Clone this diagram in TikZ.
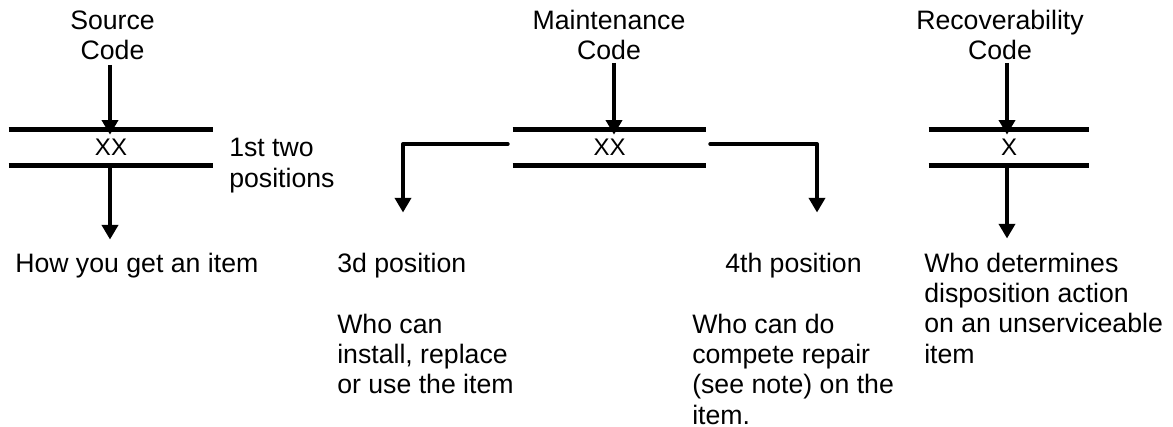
\documentclass[tikz,border=0pt]{standalone}
\usepackage{fontspec}
\setmainfont{Liberation Sans}
\usetikzlibrary{arrows.meta}
\begin{document}
\begin{tikzpicture}[x=0.75pt,y=-0.75pt,
  txt/.style={inner sep=0pt, font=\fontsize{20}{22.8}\selectfont},
  field/.style={inner sep=0pt, minimum height=27pt, font=\fontsize{18}{20}\selectfont},
  bar/.style={line width=3.75pt},
  arr/.style={line width=3pt, -{Triangle[width=12pt,length=11pt]}},
  link/.style={arr, line join=round, line cap=round}]
\useasboundingbox (0,0) rectangle (1173,427);

% ---------- Source code ----------
\node[field, minimum width=153pt] (sf) at (111,147.5) {XX};
\draw[bar] (sf.north west) -- (sf.north east);
\draw[bar] (sf.south west) -- (sf.south east);
\node[txt, align=center, anchor=south] (sl) at (112.5,60) {Source\\Code};
\coordinate (sx) at (110,0);
\draw[arr, shorten <=3.75pt, shorten >=-4.1pt] (sl.south -| sx) -- (sf.north -| sx);
\node[txt, anchor=base west] (how) at (15,272.5) {How you get an item};
\draw[arr, shorten >=10pt] (sf.south -| sx) -- (how.north -| sx);
\node[txt, align=left, anchor=north west] (pos12) at (229,138) {1st two\\positions};

% ---------- Maintenance code ----------
\node[field, minimum width=144.75pt] (mf) at (609.5,147.5) {XX};
\draw[bar] (mf.north west) -- (mf.north east);
\draw[bar] (mf.south west) -- (mf.south east);
\node[txt, align=center, anchor=south] (ml) at (609,60) {Maintenance\\Code};
\coordinate (mx) at (614,0);
\draw[arr, shorten <=2.25pt, shorten >=-4.1pt] (ml.south -| mx) -- (mf.north -| mx);

\node[txt, anchor=base west] (p3) at (337,272.5) {3d position};
\node[txt, align=left, anchor=north west] (d3) at (337,313.5) {Who can\\install, replace\\or use the item};
\coordinate (mls) at ([shift={(-5,-3.5)}]mf.west);
\coordinate (p3x) at (403,0);
\draw[link, shorten >=30.3pt] (mls) -- (mls -| p3x) -- (p3.north -| p3x);

\node[txt, anchor=base west] (p4) at (725,272.5) {4th position};
\node[txt, align=left, anchor=north west] (d4) at (692,313.5) {Who can do\\compete repair\\(see note) on the\\item.};
\coordinate (mrs) at ([shift={(4,-3.5)}]mf.east);
\coordinate (p4x) at (817,0);
\draw[link, shorten >=30.3pt] (mrs) -- (mrs -| p4x) -- (p4.north -| p4x);

% ---------- Recoverability code ----------
\node[field, minimum width=120pt] (rf) at (1009,147.5) {X};
\draw[bar] (rf.north west) -- (rf.north east);
\draw[bar] (rf.south west) -- (rf.south east);
\node[txt, align=center, anchor=south] (rl) at (1000,60) {Recoverability\\Code};
\coordinate (rx) at (1007,0);
\draw[arr, shorten <=2.25pt, shorten >=-4.1pt] (rl.south -| rx) -- (rf.north -| rx);
\node[txt, align=left, anchor=north west] (rd) at (924,252.5) {Who determines\\disposition action\\on an unserviceable\\item};
\draw[arr, shorten >=10.5pt] (rf.south -| rx) -- (rd.north -| rx);
\end{tikzpicture}
\end{document}
